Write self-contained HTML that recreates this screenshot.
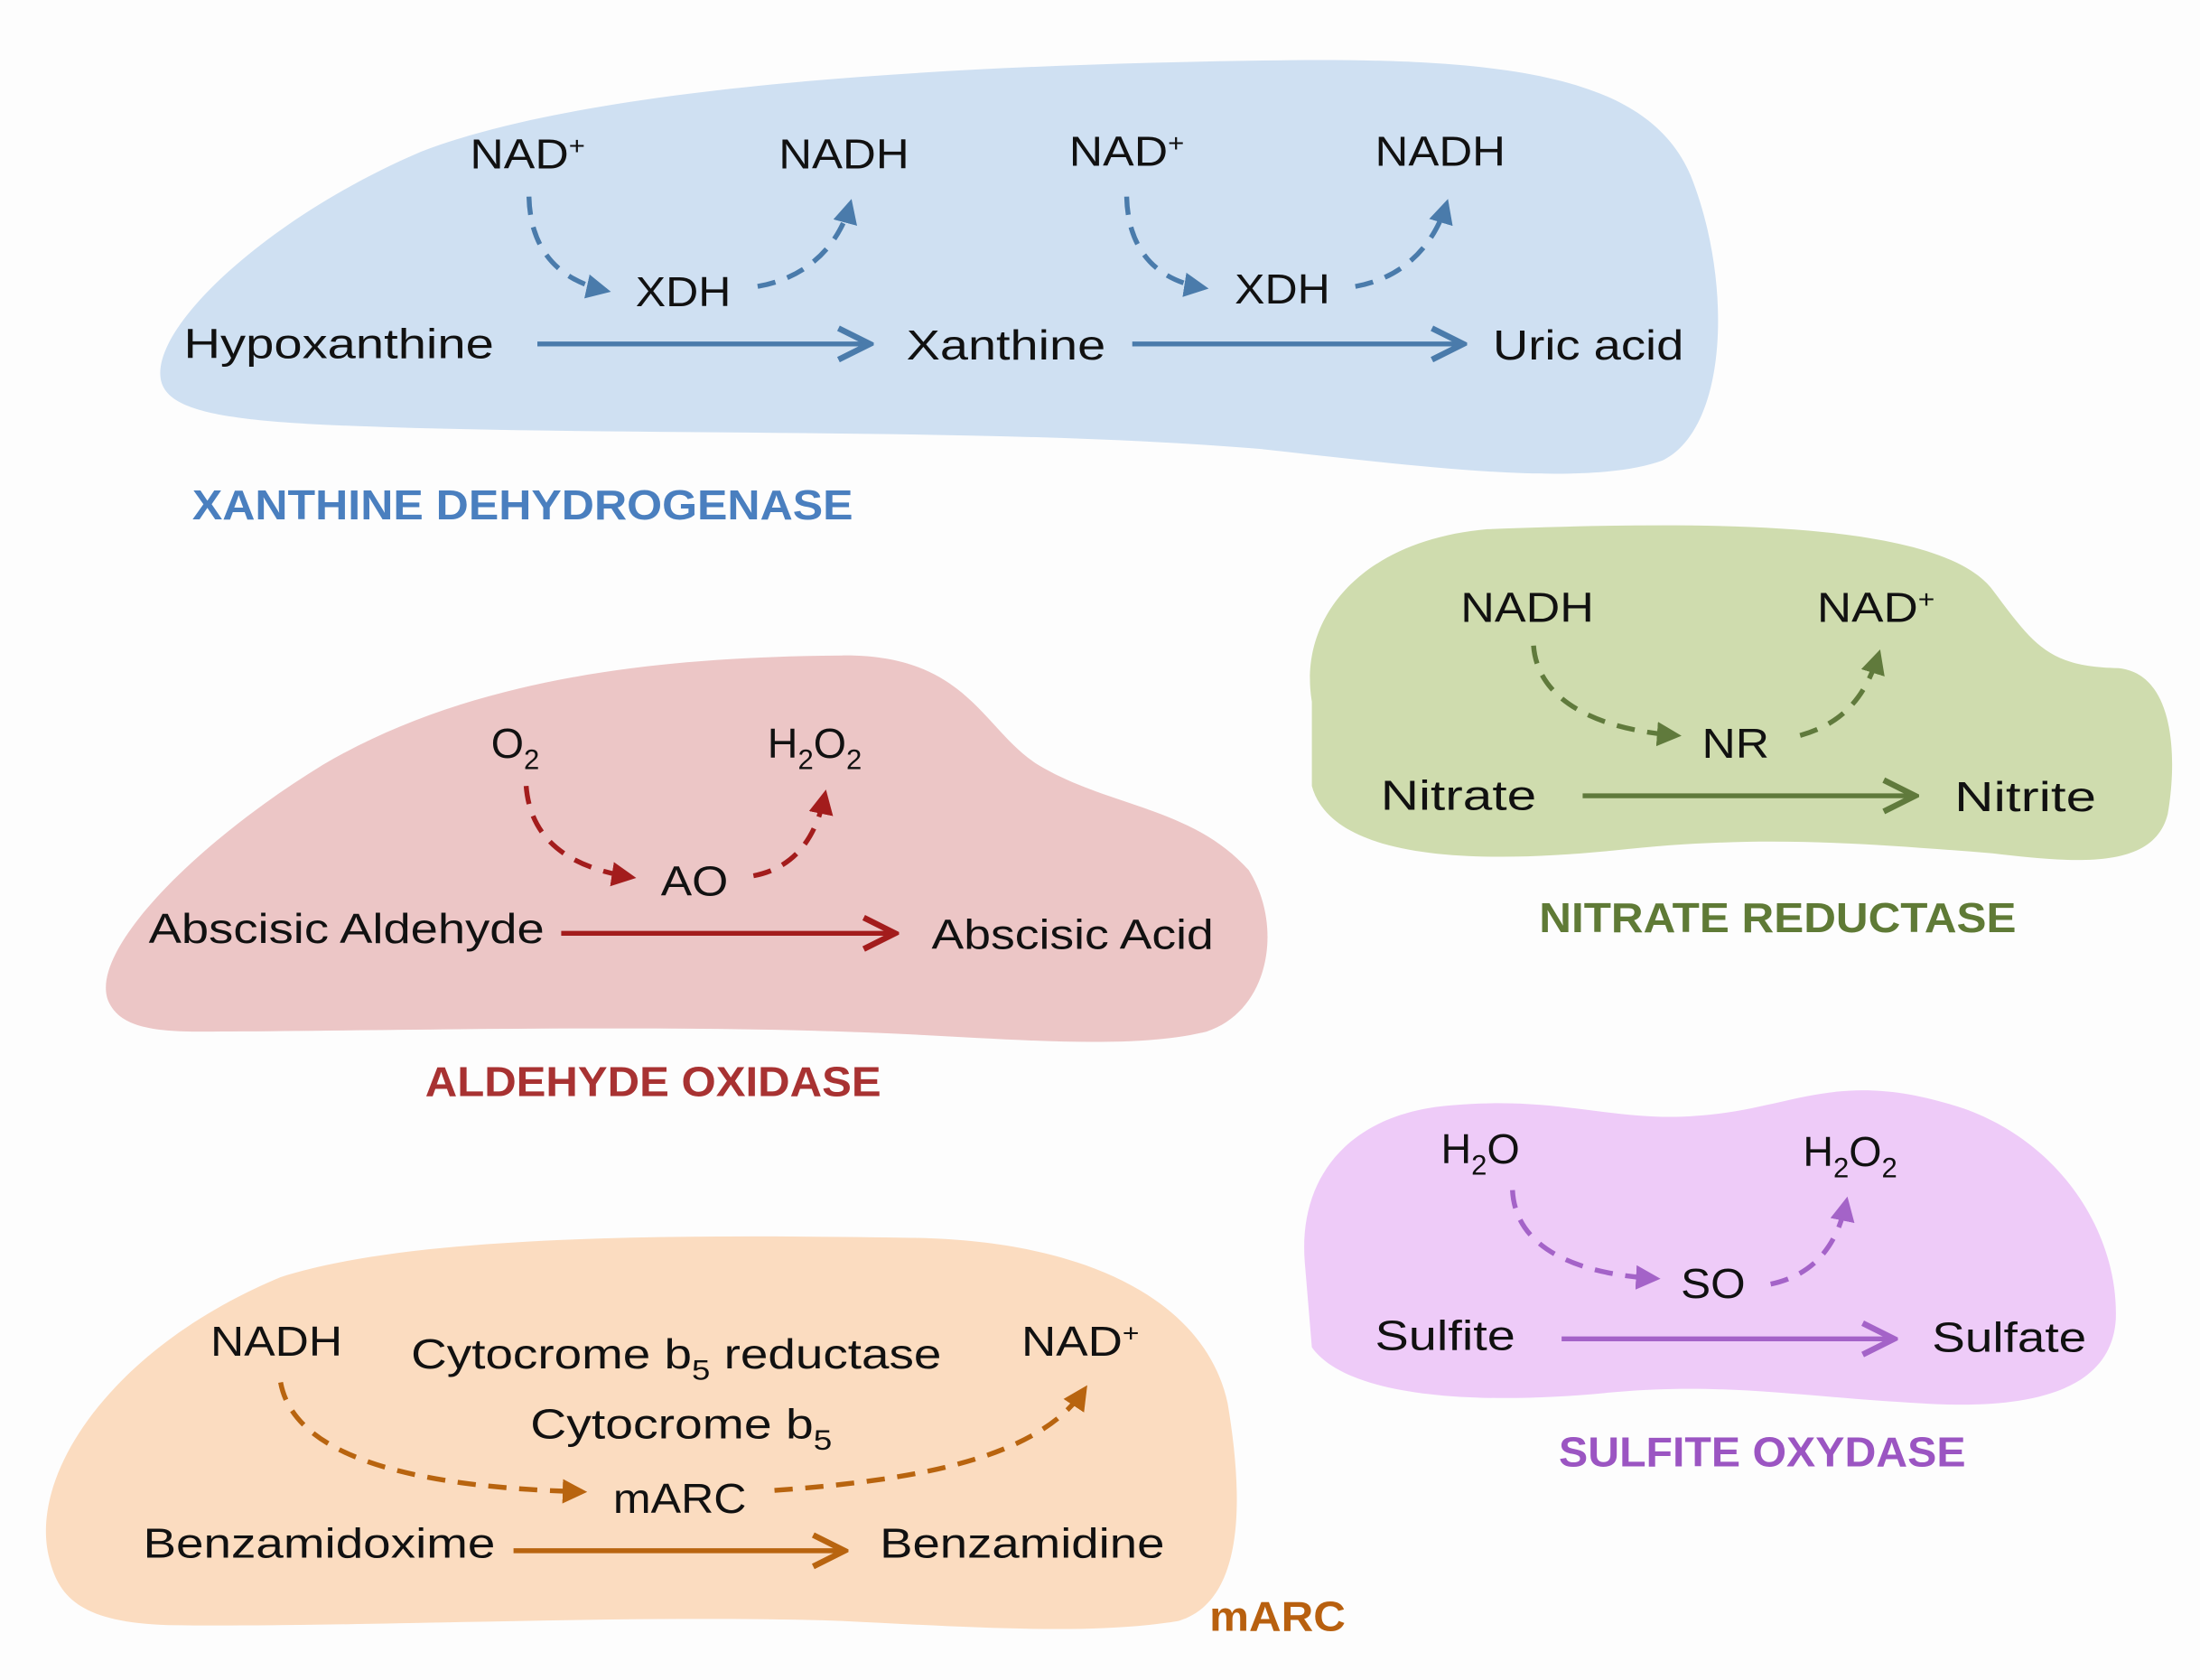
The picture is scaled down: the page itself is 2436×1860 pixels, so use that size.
<!DOCTYPE html>
<html><head><meta charset="utf-8"><style>
html,body{margin:0;padding:0;background:#fdfdfd;}
svg{display:block;}
text{font-family:"Liberation Sans",sans-serif;fill:#111;}
.t{font-size:30px;}
.h{font-size:30px;font-weight:bold;}
</style></head><body>
<svg width="2436" height="1860" viewBox="0 0 1568 1197" xmlns="http://www.w3.org/2000/svg">
<defs>
<marker id="ab" viewBox="0 0 10 10" refX="8" refY="5" markerWidth="5" markerHeight="5" orient="auto"><path d="M0,0 L10,5 L0,10 Z" fill="#4a7bab"/></marker>
<marker id="abo" viewBox="0 0 10 10" refX="9" refY="5" markerWidth="8" markerHeight="8" orient="auto"><path d="M1,1 L9,5 L1,9" fill="none" stroke="#4a7bab" stroke-width="1.5"/></marker>
<marker id="ag" viewBox="0 0 10 10" refX="8" refY="5" markerWidth="5" markerHeight="5" orient="auto"><path d="M0,0 L10,5 L0,10 Z" fill="#607a3c"/></marker>
<marker id="ago" viewBox="0 0 10 10" refX="9" refY="5" markerWidth="8" markerHeight="8" orient="auto"><path d="M1,1 L9,5 L1,9" fill="none" stroke="#607a3c" stroke-width="1.5"/></marker>
<marker id="ar" viewBox="0 0 10 10" refX="8" refY="5" markerWidth="5" markerHeight="5" orient="auto"><path d="M0,0 L10,5 L0,10 Z" fill="#a31c1c"/></marker>
<marker id="aro" viewBox="0 0 10 10" refX="9" refY="5" markerWidth="8" markerHeight="8" orient="auto"><path d="M1,1 L9,5 L1,9" fill="none" stroke="#a31c1c" stroke-width="1.5"/></marker>
<marker id="ap" viewBox="0 0 10 10" refX="8" refY="5" markerWidth="5" markerHeight="5" orient="auto"><path d="M0,0 L10,5 L0,10 Z" fill="#a463c8"/></marker>
<marker id="apo" viewBox="0 0 10 10" refX="9" refY="5" markerWidth="8" markerHeight="8" orient="auto"><path d="M1,1 L9,5 L1,9" fill="none" stroke="#a463c8" stroke-width="1.5"/></marker>
<marker id="ao" viewBox="0 0 10 10" refX="8" refY="5" markerWidth="5" markerHeight="5" orient="auto"><path d="M0,0 L10,5 L0,10 Z" fill="#b8640f"/></marker>
<marker id="aoo" viewBox="0 0 10 10" refX="9" refY="5" markerWidth="8" markerHeight="8" orient="auto"><path d="M1,1 L9,5 L1,9" fill="none" stroke="#b8640f" stroke-width="1.5"/></marker>
</defs>

<!-- Blue -->
<path d="M115,272 C105,235 190,155 300,108 C430,58 700,46 900,43 C1080,40 1175,55 1205,125 C1235,200 1232,305 1185,328 C1130,348 1010,332 900,320 C700,303 420,312 220,302 C150,298 120,290 115,272 Z" fill="#cfe0f2"/>
<g stroke="#4a7bab" stroke-width="3.5" fill="none">
<path d="M377,140 C378,180 400,200 432,207" stroke-dasharray="13,9" marker-end="url(#ab)"/>
<path d="M540,204 C575,198 598,175 606,145" stroke-dasharray="13,9" marker-end="url(#ab)"/>
<path d="M803,140 C804,180 826,200 858,205" stroke-dasharray="13,9" marker-end="url(#ab)"/>
<path d="M966,204 C1000,198 1022,175 1031,145" stroke-dasharray="13,9" marker-end="url(#ab)"/>
<line x1="383" y1="245" x2="620" y2="245" marker-end="url(#abo)"/>
<line x1="807" y1="245" x2="1043" y2="245" marker-end="url(#abo)"/>
</g>
<text class="t" x="335" y="120" textLength="82" lengthAdjust="spacingAndGlyphs">NAD<tspan font-size="18" dy="-10">+</tspan></text>
<text class="t" x="555" y="120" textLength="93" lengthAdjust="spacingAndGlyphs">NADH</text>
<text class="t" x="762" y="118" textLength="82" lengthAdjust="spacingAndGlyphs">NAD<tspan font-size="18" dy="-10">+</tspan></text>
<text class="t" x="980" y="118" textLength="93" lengthAdjust="spacingAndGlyphs">NADH</text>
<text class="t" x="453" y="218" textLength="68" lengthAdjust="spacingAndGlyphs">XDH</text>
<text class="t" x="880" y="216" textLength="68" lengthAdjust="spacingAndGlyphs">XDH</text>
<text class="t" x="131" y="255" textLength="221" lengthAdjust="spacingAndGlyphs">Hypoxanthine</text>
<text class="t" x="646" y="256" textLength="142" lengthAdjust="spacingAndGlyphs">Xanthine</text>
<text class="t" x="1064" y="256" textLength="136" lengthAdjust="spacingAndGlyphs">Uric acid</text>
<text class="h" x="137" y="370" fill="#4a7fbf" style="fill:#4a7fbf" textLength="471" lengthAdjust="spacingAndGlyphs">XANTHINE DEHYDROGENASE</text>

<!-- Green -->
<path d="M935,500 C925,440 970,385 1060,377 C1200,372 1380,368 1420,420 C1450,460 1460,475 1510,476 C1550,480 1552,540 1545,580 C1535,620 1480,615 1420,608 C1320,600 1250,595 1150,606 C1060,615 950,615 935,560 Z" fill="#cfdcae"/>
<g stroke="#607a3c" stroke-width="3.5" fill="none">
<path d="M1093,460 C1096,500 1140,520 1195,524" stroke-dasharray="13,9" marker-end="url(#ag)"/>
<path d="M1283,524 C1315,515 1330,495 1339,466" stroke-dasharray="13,9" marker-end="url(#ag)"/>
<line x1="1128" y1="567" x2="1365" y2="567" marker-end="url(#ago)"/>
</g>
<text class="t" x="1041" y="443" textLength="95" lengthAdjust="spacingAndGlyphs">NADH</text>
<text class="t" x="1295" y="443" textLength="84" lengthAdjust="spacingAndGlyphs">NAD<tspan font-size="18" dy="-10">+</tspan></text>
<text class="t" x="1213" y="540" textLength="48" lengthAdjust="spacingAndGlyphs">NR</text>
<text class="t" x="984" y="577" textLength="111" lengthAdjust="spacingAndGlyphs">Nitrate</text>
<text class="t" x="1393" y="578" textLength="101" lengthAdjust="spacingAndGlyphs">Nitrite</text>
<text class="h" x="1097" y="664" style="fill:#5f7a36" textLength="340" lengthAdjust="spacingAndGlyphs">NITRATE REDUCTASE</text>

<!-- Pink -->
<path d="M78,715 C60,680 140,600 230,545 C340,480 480,468 600,467 C690,466 700,520 740,545 C790,575 850,575 890,620 C915,660 905,720 860,735 C800,750 700,738 600,735 C450,730 250,735 140,735 C100,735 85,728 78,715 Z" fill="#ecc6c6"/>
<g stroke="#a31c1c" stroke-width="3.5" fill="none">
<path d="M375,560 C378,598 405,618 450,625" stroke-dasharray="13,9" marker-end="url(#ar)"/>
<path d="M537,624 C568,618 582,595 588,566" stroke-dasharray="13,9" marker-end="url(#ar)"/>
<line x1="400" y1="665" x2="638" y2="665" marker-end="url(#aro)"/>
</g>
<text class="t" x="350" y="540">O<tspan font-size="20" dy="8">2</tspan></text>
<text class="t" x="547" y="540">H<tspan font-size="20" dy="8">2</tspan><tspan dy="-8">O</tspan><tspan font-size="20" dy="8">2</tspan></text>
<text class="t" x="471" y="638" textLength="48" lengthAdjust="spacingAndGlyphs">AO</text>
<text class="t" x="106" y="672" textLength="282" lengthAdjust="spacingAndGlyphs">Abscisic Aldehyde</text>
<text class="t" x="664" y="676" textLength="201" lengthAdjust="spacingAndGlyphs">Abscisic Acid</text>
<text class="h" x="303" y="781" style="fill:#a83232" textLength="325" lengthAdjust="spacingAndGlyphs">ALDEHYDE OXIDASE</text>

<!-- Purple -->
<path d="M930,900 C925,840 960,795 1030,788 C1110,780 1150,800 1210,795 C1280,790 1310,760 1400,790 C1470,815 1510,880 1508,940 C1505,990 1450,1005 1370,1000 C1280,995 1230,985 1150,992 C1050,1002 960,995 935,960 Z" fill="#eecbf8"/>
<g stroke="#a463c8" stroke-width="3.5" fill="none">
<path d="M1078,848 C1080,890 1125,908 1180,911" stroke-dasharray="13,9" marker-end="url(#ap)"/>
<path d="M1262,915 C1295,908 1310,885 1316,856" stroke-dasharray="13,9" marker-end="url(#ap)"/>
<line x1="1113" y1="954" x2="1350" y2="954" marker-end="url(#apo)"/>
</g>
<text class="t" x="1027" y="829">H<tspan font-size="20" dy="8">2</tspan><tspan dy="-8">O</tspan></text>
<text class="t" x="1285" y="831">H<tspan font-size="20" dy="8">2</tspan><tspan dy="-8">O</tspan><tspan font-size="20" dy="8">2</tspan></text>
<text class="t" x="1198" y="925" textLength="46" lengthAdjust="spacingAndGlyphs">SO</text>
<text class="t" x="980" y="962" textLength="100" lengthAdjust="spacingAndGlyphs">Sulfite</text>
<text class="t" x="1377" y="963" textLength="110" lengthAdjust="spacingAndGlyphs">Sulfate</text>
<text class="h" x="1111" y="1045" style="fill:#9b55c2" textLength="290" lengthAdjust="spacingAndGlyphs">SULFITE OXYDASE</text>

<!-- Orange -->
<path d="M35,1110 C20,1050 80,960 200,910 C300,878 500,880 650,882 C780,884 860,930 875,1000 C885,1060 890,1140 840,1155 C780,1165 700,1160 600,1155 C450,1150 250,1160 120,1158 C60,1156 42,1140 35,1110 Z" fill="#fbdcc0"/>
<g stroke="#b8640f" stroke-width="3.5" fill="none">
<path d="M200,985 C210,1040 300,1060 415,1063" stroke-dasharray="13,9" marker-end="url(#ao)"/>
<path d="M552,1062 C650,1055 740,1040 773,990" stroke-dasharray="13,9" marker-end="url(#ao)"/>
<line x1="366" y1="1105" x2="602" y2="1105" marker-end="url(#aoo)"/>
</g>
<text class="t" x="150" y="966" textLength="94" lengthAdjust="spacingAndGlyphs">NADH</text>
<text class="t" x="293" y="975" textLength="378" lengthAdjust="spacingAndGlyphs">Cytocrome b<tspan font-size="20" dy="8">5</tspan><tspan dy="-8"> reductase</tspan></text>
<text class="t" x="378" y="1025" textLength="215" lengthAdjust="spacingAndGlyphs">Cytocrome b<tspan font-size="20" dy="8">5</tspan></text>
<text class="t" x="728" y="966" textLength="84" lengthAdjust="spacingAndGlyphs">NAD<tspan font-size="18" dy="-10">+</tspan></text>
<text class="t" x="437" y="1078" textLength="95" lengthAdjust="spacingAndGlyphs">mARC</text>
<text class="t" x="102" y="1110" textLength="251" lengthAdjust="spacingAndGlyphs">Benzamidoxime</text>
<text class="t" x="627" y="1110" textLength="203" lengthAdjust="spacingAndGlyphs">Benzamidine</text>
<text class="h" x="862" y="1162" style="fill:#b8600f" textLength="97" lengthAdjust="spacingAndGlyphs">mARC</text>
</svg>
</body></html>
